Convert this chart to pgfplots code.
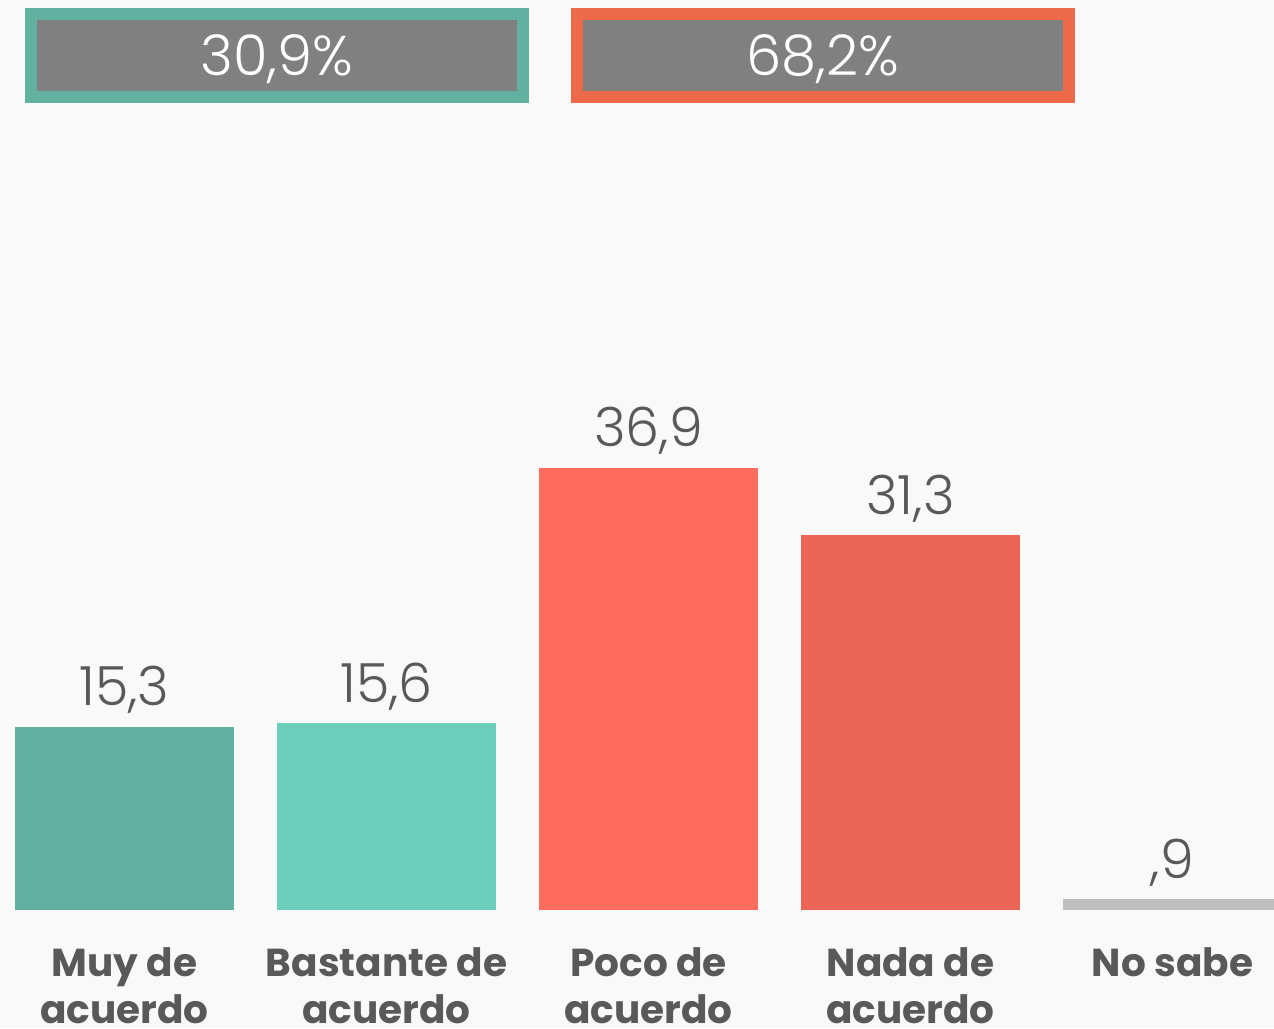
\documentclass[border=0pt]{standalone}
\usepackage{pgfplots}
\pgfplotsset{compat=1.18}
\usepackage{fontspec}
\setmainfont{Poppins}
\newfontfamily\lightfont{Poppins Light}
\usetikzlibrary{backgrounds}
\definecolor{bg}{HTML}{F9F9F9}
\definecolor{cA}{HTML}{61B0A0}
\definecolor{cB}{HTML}{6DCEBB}
\definecolor{cC}{HTML}{FF6B5F}
\definecolor{cD}{HTML}{EC6657}
\definecolor{cE}{HTML}{BFBFBF}
\definecolor{bTeal}{HTML}{62B1A0}
\definecolor{bOrange}{HTML}{EC6A4A}
\definecolor{boxgray}{HTML}{808080}
\definecolor{txt}{HTML}{595959}
\begin{document}
\begin{tikzpicture}
\begin{axis}[
  scale only axis, width=637pt, height=455pt,
  xmin=-0.475, xmax=4.3875, ymin=0, ymax=75.96,
  axis line style={draw=none}, ytick=\empty,
  xtick={0,1,2,3,4}, major tick length=0pt,
  xticklabels={{Muy de\\acuerdo},{Bastante de\\acuerdo},{Poco de\\acuerdo},{Nada de\\acuerdo},{No sabe}},
  xticklabel style={align=center, inner sep=0pt, anchor=north, yshift=-18.5pt, text=txt,
    font=\bfseries\fontsize{19.5}{23.5}\selectfont},
  ybar, bar width=109.5pt, bar shift=0pt, clip=false,
  nodes near coords, point meta=explicit symbolic,
  nodes near coords style={font=\lightfont\fontsize{27}{30}\selectfont, text=txt, anchor=base, inner sep=0pt, yshift=10.5pt},
]
\addplot[fill=cA, draw=none] table[meta=lab, row sep=\\] {x y lab\\ 0 15.3 15,3\\};
\addplot[fill=cB, draw=none] table[meta=lab, row sep=\\] {x y lab\\ 1 15.6 15,6\\};
\addplot[fill=cC, draw=none] table[meta=lab, row sep=\\] {x y lab\\ 2 36.9 36,9\\};
\addplot[fill=cD, draw=none] table[meta=lab, row sep=\\] {x y lab\\ 3 31.3 31,3\\};
\addplot[fill=cE, draw=none] table[meta=lab, row sep=\\] {x y lab\\ 4 0.9 ,9\\};
\coordinate (bl) at (rel axis cs:0,-0.12967);
\coordinate (tr) at (rel axis cs:1,1);
\node[draw=bTeal, line width=6pt, fill=boxgray, minimum width=246pt, minimum height=41.5pt, inner sep=0pt, text=white, font=\lightfont\fontsize{28}{31}\selectfont] (b1) at (rel axis cs:0.2174,0.939) {};
\node[text=white, font=\lightfont\fontsize{28}{31}\selectfont, inner sep=0pt, yshift=-2pt] at (b1.center) {30,9\%};
\node[draw=bOrange, line width=6pt, fill=boxgray, minimum width=246pt, minimum height=41.5pt, inner sep=0pt] (b2) at (rel axis cs:0.646,0.939) {};
\node[text=white, font=\lightfont\fontsize{28}{31}\selectfont, inner sep=0pt, yshift=-2pt] at (b2.center) {68,2\%};
\end{axis}
\begin{scope}[on background layer]
\fill[bg] (bl) rectangle (tr);
\end{scope}
\pgfresetboundingbox
\path[use as bounding box] (bl) rectangle (tr);
\end{tikzpicture}
\end{document}
